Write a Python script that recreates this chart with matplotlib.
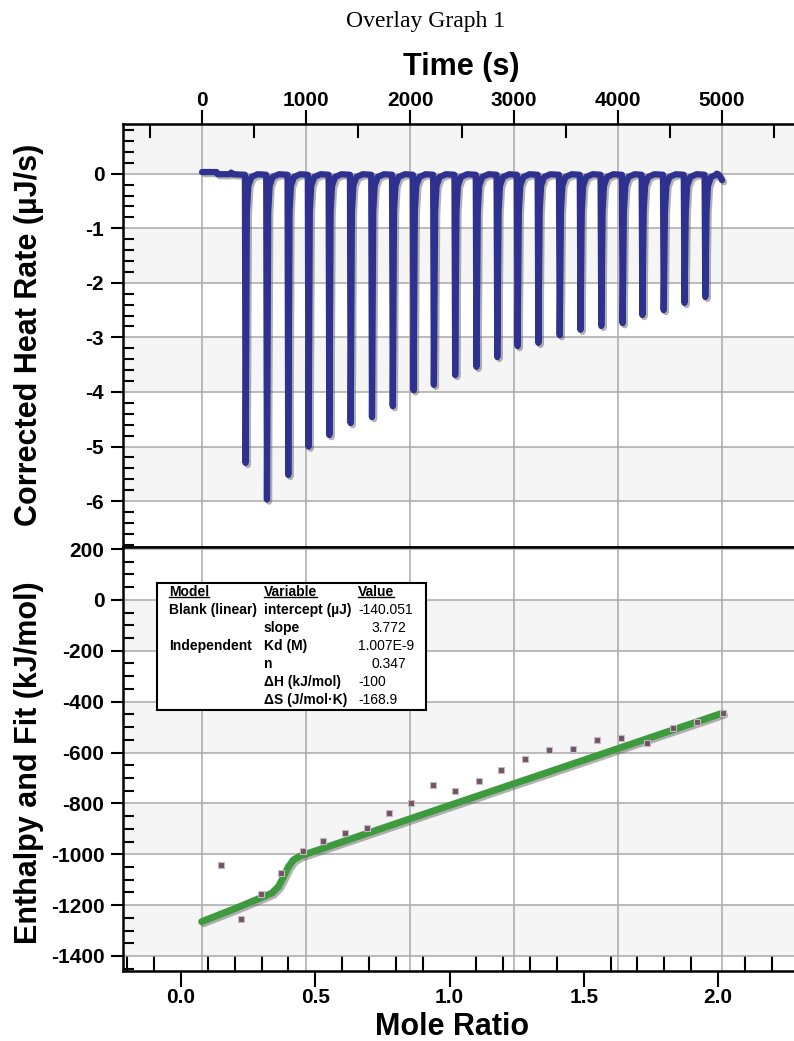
import numpy as np
import matplotlib.pyplot as plt
import matplotlib.patheffects as pe
from matplotlib import transforms
from matplotlib.patches import Rectangle
from matplotlib.lines import Line2D
from matplotlib.ticker import MultipleLocator, FormatStrFormatter

plt.rcParams['font.family'] = ['Liberation Sans', 'DejaVu Sans']
plt.rcParams['font.weight'] = 'bold'
plt.rcParams['axes.unicode_minus'] = False

W, H = 794, 1041

# ==============================
# data
# ==============================

# thermogram: injection times (s) and peak minima (uJ/s)
inj_time = [415, 620, 825, 1020, 1220, 1425, 1630, 1830, 2030, 2225, 2430, 2635,
            2835, 3030, 3230, 3435, 3635, 3835, 4040, 4230, 4435, 4635, 4835]
inj_peak = [-5.30, -5.97, -5.52, -5.00, -4.79, -4.57, -4.46, -4.26, -3.97, -3.87,
            -3.69, -3.54, -3.36, -3.16, -3.10, -2.96, -2.86, -2.79, -2.74, -2.59,
            -2.50, -2.37, -2.26]
# one peak: time offset from injection and heat rate (None = peak minimum)
peak_dt = [-3, 4, 16, 30, 60, 120]
peak_q = [-0.02, None, -0.70, -0.22, -0.06, -0.01]
# baseline before first and after last injection
start_t = [0, 140, 150, 265, 280, 300]
start_q = [0.03, 0.03, -0.01, -0.01, 0.02, -0.01]
end_t = [4950, 4975, 5000]
end_q = [0.0, -0.03, -0.12]

# integrated heats
mole_ratio = [0.149, 0.224, 0.299, 0.372, 0.453, 0.529, 0.612, 0.693, 0.775, 0.857,
              0.938, 1.020, 1.109, 1.190, 1.280, 1.371, 1.461, 1.549, 1.638, 1.735,
              1.831, 1.922, 2.017]
enthalpy = [-1042, -1254, -1157, -1072, -986, -946, -915, -898, -836, -797,
            -726, -750, -711, -670, -625, -591, -585, -552, -543, -561,
            -505, -481, -443]

# fit curve
fit_x = [0.077, 0.20, 0.307, 0.338, 0.363, 0.382, 0.400, 0.419, 0.444, 0.50, 1.00, 1.50, 2.017]
fit_y = [-1265, -1214, -1167, -1153, -1127, -1088, -1049, -1022, -1007, -987, -808, -630, -445]

# fit table
tbl_model = ['Model', 'Blank (linear)', '', 'Independent', '', '', '']
tbl_var = ['Variable', 'intercept (µJ)', 'slope', 'Kd (M)', 'n', 'ΔH (kJ/mol)', 'ΔS (J/mol·K)']
tbl_val = ['Value', '-140.051', '3.772', '1.007E-9', '0.347', '-100', '-168.9']

# build the trace
trace_t = list(start_t)
trace_q = list(start_q)
for t, d in zip(inj_time, inj_peak):
    for dt, q in zip(peak_dt, peak_q):
        trace_t.append(t + dt)
        trace_q.append(d if q is None else q)
trace_t += end_t
trace_q += end_q

# ==============================
# figure
# ==============================

fig = plt.figure(figsize=(W / 100, H / 100), dpi=100)


def fx(x):
    return x / W


def fy(y):
    return 1 - y / H


L, R, T, M, B = 123, 794, 124, 547, 971
ax1 = fig.add_axes([fx(L), fy(M), fx(R) - fx(L), fy(T) - fy(M)])
ax2 = fig.add_axes([fx(L), fy(B), fx(R) - fx(L), fy(M) - fy(B)])

ax1.set_xlim(-760, 5692)
ax1.set_ylim(-6.84, 0.91)
ax2.set_xlim(-0.216, 2.283)
ax2.set_ylim(-1459, 208)

band = '#f5f5f5'
gridc = '#a9a9a9'

for lo in [-2, -4, -6]:
    ax1.axhspan(lo, lo + 1, color=band, zorder=0.2, lw=0)
ax1.axhspan(0, 0.91, color=band, zorder=0.2, lw=0)
for lo in [-200, -600, -1000, -1400]:
    ax2.axhspan(lo, lo + 200, color=band, zorder=0.2, lw=0)

# grid
ax1.set_axisbelow(True)
ax2.set_axisbelow(True)
ax1.grid(True, which='major', color=gridc, lw=1.1)
ax2.yaxis.grid(True, which='major', color=gridc, lw=1.1)
time_ticks = np.arange(0, 5001, 1000)
trans = transforms.blended_transform_factory(ax1.transData, ax2.transAxes)
for t in time_ticks:
    ax2.plot([t, t], [0, 1], transform=trans, color=gridc, lw=1.1, zorder=0.5)

# spines
for ax in (ax1, ax2):
    ax.spines['right'].set_visible(False)
    for s in ('left', 'top', 'bottom'):
        ax.spines[s].set_linewidth(1.8)
    ax.patch.set_facecolor('white')

# ticks top panel
ax1.xaxis.set_major_locator(MultipleLocator(1000))
ax1.xaxis.set_minor_locator(MultipleLocator(500))
ax1.yaxis.set_major_locator(MultipleLocator(1))
ax1.yaxis.set_minor_locator(MultipleLocator(0.2))
ax1.tick_params(axis='x', which='both', bottom=False, top=True, labelbottom=False, labeltop=True)
ax1.tick_params(axis='x', which='major', direction='out', length=10, width=1.5, pad=0, labelsize=15)
ax1.tick_params(axis='x', which='minor', direction='in', length=10, width=1.5)
ax1.tick_params(axis='y', which='both', left=True, right=False)
ax1.tick_params(axis='y', which='major', direction='out', length=9, width=1.5, pad=4.5, labelsize=15)
ax1.tick_params(axis='y', which='minor', direction='in', length=8, width=1.5)

# ticks bottom panel
ax2.xaxis.set_major_locator(MultipleLocator(0.5))
ax2.xaxis.set_minor_locator(MultipleLocator(0.1))
ax2.xaxis.set_major_formatter(FormatStrFormatter('%.1f'))
ax2.yaxis.set_major_locator(MultipleLocator(200))
ax2.yaxis.set_minor_locator(MultipleLocator(50))
ax2.tick_params(axis='x', which='both', bottom=True, top=False)
ax2.tick_params(axis='x', which='major', direction='out', length=11.5, width=1.5, pad=0.5, labelsize=15)
ax2.tick_params(axis='x', which='minor', direction='in', length=11, width=1.5)
ax2.tick_params(axis='y', which='both', left=True, right=False)
ax2.tick_params(axis='y', which='major', direction='out', length=9, width=1.5, pad=4.5, labelsize=15)
ax2.tick_params(axis='y', which='minor', direction='in', length=8, width=1.5)

# data
shadow = [pe.SimpleLineShadow(offset=(1.5, -1.5), shadow_color='#666666', alpha=0.5), pe.Normal()]
ax1.plot(trace_t, trace_q, color='#2f3190', lw=4.5, solid_joinstyle='round',
         solid_capstyle='round', path_effects=shadow, zorder=3)
ax2.plot(fit_x, fit_y, color='#3d9a3d', lw=5, solid_joinstyle='round',
         solid_capstyle='round', path_effects=shadow, zorder=3)
ax2.plot(mole_ratio, enthalpy, 's', ms=4.5, mfc='#6f5565', mec='#c7b9c0', mew=0.8, zorder=4)

# labels
fig.text(fx(426), fy(22), 'Overlay Graph 1', family=['Liberation Serif'], fontsize=17,
         fontweight='normal', ha='center', va='center')
fig.text(fx(461), fy(67), 'Time (s)', fontsize=22, ha='center', va='center')
fig.text(fx(452), fy(1027), 'Mole Ratio', fontsize=22, ha='center', va='center')
fig.text(fx(29), fy(335), 'Corrected Heat Rate (µJ/s)', rotation=90, fontsize=22,
         ha='center', va='center')
fig.text(fx(29), fy(763), 'Enthalpy and Fit (kJ/mol)', rotation=90, fontsize=22,
         ha='center', va='center')

# fit table
box = Rectangle((fx(157), fy(710)), fx(426) - fx(157), fy(583) - fy(710),
                transform=fig.transFigure, facecolor='white', edgecolor='black',
                lw=1.5, zorder=5)
ax2.add_patch(box)
row_y = [592, 610, 628, 646, 664, 682, 700]
val_x = [358, 358, 371, 358, 371, 358, 358]
headers = []
for i in range(len(tbl_var)):
    t1 = ax2.text(fx(169), fy(row_y[i]), tbl_model[i], transform=fig.transFigure,
                  fontsize=10, ha='left', va='center', zorder=6)
    t2 = ax2.text(fx(264), fy(row_y[i]), tbl_var[i], transform=fig.transFigure,
                  fontsize=10, ha='left', va='center', zorder=6)
    t3 = ax2.text(fx(val_x[i]), fy(row_y[i]), tbl_val[i], transform=fig.transFigure,
                  fontsize=10, ha='left', va='center', zorder=6,
                  fontweight='bold' if i == 0 else 'normal')
    if i == 0:
        headers = [t1, t2, t3]

fig.canvas.draw()
renderer = fig.canvas.get_renderer()
inv = fig.transFigure.inverted()
for t in headers:
    bb = t.get_window_extent(renderer)
    (x0, y0), (x1, _) = inv.transform([(bb.x0, bb.y0 + 2), (bb.x1, bb.y0 + 2)])
    fig.add_artist(Line2D([x0, x1], [y0, y0], transform=fig.transFigure,
                          color='black', lw=1.0, zorder=7))

fig.savefig('out.png', dpi=100)
